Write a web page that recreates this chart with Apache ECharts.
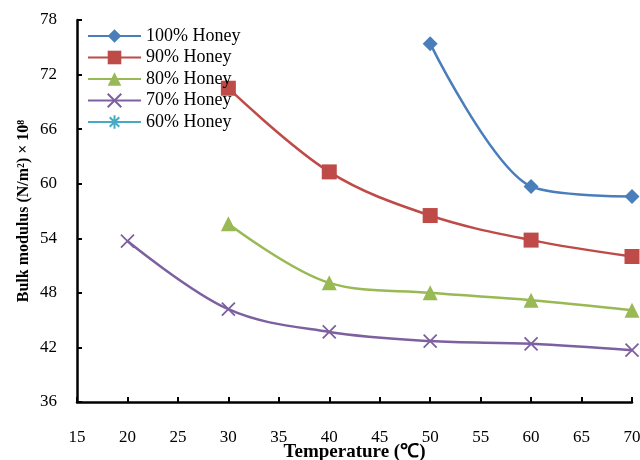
<!DOCTYPE html>
<html><head><meta charset="utf-8">
<script src="https://cdn.jsdelivr.net/npm/echarts@6/dist/echarts.min.js"></script>
<style>html,body{margin:0;padding:0;background:#fff}#c{width:640px;height:460px}</style>
</head><body><div id="c"></div>
<script>
const temps = [20, 30, 40, 50, 60, 70];
const honey100 = [null, null, null, 75.4, 59.7, 58.6];
const honey90 = [null, 70.5, 61.3, 56.5, 53.8, 52.0];
const honey80 = [null, 55.6, 49.1, 48.0, 47.2, 46.1];
const honey70 = [53.7, 46.2, 43.7, 42.7, 42.4, 41.7];
const honey60 = [];
const names = ['100% Honey', '90% Honey', '80% Honey', '70% Honey', '60% Honey'];

const font = 'Liberation Serif';
function pairs(vals){ return temps.map((t,i)=>[t, vals[i]]).filter(p=>p[1]!=null); }
const crossPath = 'path://M0,0L10,10M10,0L0,10';
const starPath = 'path://M5,0L5,10M0,5L10,5M1.5,1.5L8.5,8.5M8.5,1.5L1.5,8.5';

const defs = [
  {name:names[0], data:honey100, color:'#4A7EBB', symbol:'diamond', size:15, smooth:0.3},
  {name:names[1], data:honey90, color:'#BE4B48', symbol:'rect', size:15, smooth:0.35},
  {name:names[2], data:honey80, color:'#98B954', symbol:'triangle', size:15, smooth:0.35},
  {name:names[3], data:honey70, color:'#7D60A0', symbol:crossPath, size:13, stroke:true, smooth:0.35},
  {name:names[4], data:honey60, color:'#46AAC5', symbol:starPath, size:13, stroke:true, smooth:0.35}
];

const series = defs.map(d => ({
  name: d.name,
  type: 'line',
  smooth: d.smooth,
  data: pairs(d.data),
  symbol: d.symbol,
  symbolSize: d.size,
  showAllSymbol: true,
  lineStyle: {color: d.color, width: 2.5},
  itemStyle: d.stroke ? {color: 'rgba(0,0,0,0)', borderColor: d.color, borderWidth: 1.8} : {color: d.color, borderColor: d.color, borderWidth: 0},
  emphasis: {disabled: true}
}));

const chart = echarts.init(document.getElementById('c'));
chart.setOption({
  animation: false,
  backgroundColor: '#fff',
  grid: {left: 77, right: 8, top: 20, bottom: 58, outerBoundsMode: 'none', containLabel: false},
  legend: {
    orient: 'vertical', left: 82, top: 22, itemGap: 3.5, itemWidth: 53, itemHeight: 17,
    textStyle: {fontFamily: font, fontSize: 18, color: '#000', lineHeight: 18},
    data: names
  },
  xAxis: {
    type: 'value', min: 15, max: 70, interval: 5,
    name: 'Temperature (℃)', nameLocation: 'middle', nameGap: 41, nameMoveOverlap: false,
    nameTextStyle: {fontFamily: font, fontSize: 19, fontWeight: 'bold', color: '#000'},
    axisLine: {lineStyle: {color: '#000', width: 2.5}},
    axisTick: {inside: true, length: 5, lineStyle: {color: '#000', width: 2}},
    axisLabel: {fontFamily: font, fontSize: 17, color: '#000', margin: 27},
    splitLine: {show: false}
  },
  yAxis: {
    type: 'value', min: 36, max: 78, interval: 6,
    name: 'Bulk modulus (N/m²) × 10⁸', nameLocation: 'middle', nameGap: 45, nameMoveOverlap: false,
    nameTextStyle: {fontFamily: font, fontSize: 16, fontWeight: 'bold', color: '#000'},
    axisLine: {show: true, lineStyle: {color: '#000', width: 2.5}},
    axisTick: {show: true, inside: true, length: 5, lineStyle: {color: '#000', width: 2}},
    axisLabel: {fontFamily: font, fontSize: 17, color: '#000', margin: 20},
    splitLine: {show: false}
  },
  series: series
});
</script></body></html>
